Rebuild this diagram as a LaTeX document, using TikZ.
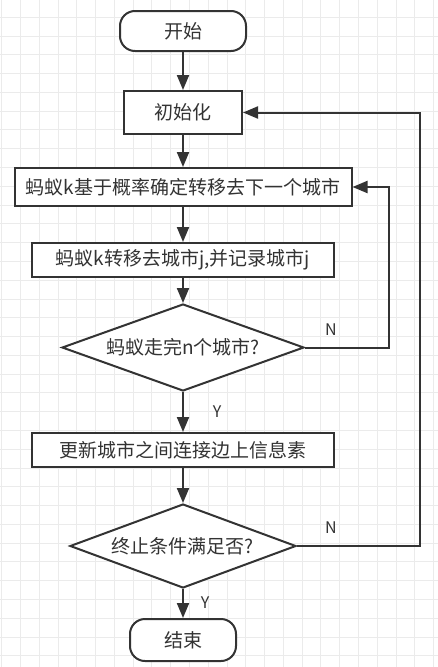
\documentclass[tikz,border=0pt]{standalone}
\usepackage{fontspec}
\setmainfont{Noto Sans CJK SC}
\usetikzlibrary{arrows.meta,shapes.geometric,calc}
\definecolor{ink}{HTML}{333333}
\definecolor{gridc}{HTML}{EBEBEB}
\begin{document}
\begin{tikzpicture}[x=1pt,y=-1pt,
  base/.style={draw=ink,line width=2pt,fill=white,text=ink,font=\fontsize{19}{22}\selectfont,inner sep=0pt},
  term/.style={base,rectangle,rounded corners=15pt},
  proc/.style={base,rectangle},
  decide/.style={base,diamond},
  arr/.style={draw=ink,line width=2pt,-{Triangle[length=15pt,width=12pt]}},
  link/.style={draw=ink,line width=2pt},
  lab/.style={text=ink,font=\fontsize{16}{18}\selectfont,inner sep=0pt}]
\useasboundingbox (0,0) rectangle (438,667);
\fill[white] (0,0) rectangle (438,667);
\foreach \i in {0,...,23} \draw[gridc,line width=1pt] ({1.7+\i*18.78},0) -- ({1.7+\i*18.78},667);
\foreach \j in {-1,...,35} \draw[gridc,line width=1pt] (0,{17.3+\j*18.78}) -- (438,{17.3+\j*18.78});

\node[term,minimum width=126pt,minimum height=40pt] (start) at (183,31) {开始};
\node[proc,minimum width=118pt,minimum height=43pt] (init) at (183,112.5) {初始化};
\node[proc,minimum width=337pt,minimum height=38pt] (choose) at (183,187) {蚂蚁k基于概率确定转移去下一个城市};
\node[proc,minimum width=302pt,minimum height=34pt] (move) at (183,260) {蚂蚁k转移去城市j,并记录城市j};
\node[decide,shape aspect=2.78,minimum width=242pt,minimum height=87pt] (d1) at (183,347.5) {蚂蚁走完n个城市?};
\node[proc,minimum width=302pt,minimum height=34pt] (update) at (183,450) {更新城市之间连接边上信息素};
\node[decide,shape aspect=2.69,minimum width=226pt,minimum height=84pt] (d2) at (183,546) {终止条件满足否?};
\node[term,minimum width=106pt,minimum height=42pt] (stop) at (183,640) {结束};

\draw[arr] (start) -- (init);
\draw[arr] (init) -- (choose);
\draw[arr] (choose) -- (move);
\draw[arr] (move) -- (d1);
\draw[arr] (d1) -- (update);
\draw[arr] (update) -- (d2);
\draw[arr] (d2) -- (stop);
\draw[arr] (d1.east) -- ++(84,0) |- (choose.east);
\draw[arr] (d2.east) -- ++(123,0) |- (init.east);

\node[lab] (n1) at (331,330) {N};
\node[lab] (n2) at (331,528) {N};
\node[lab] (y1) at (217,412) {Y};
\node[lab] (y2) at (205,603) {Y};
\end{tikzpicture}
\end{document}
